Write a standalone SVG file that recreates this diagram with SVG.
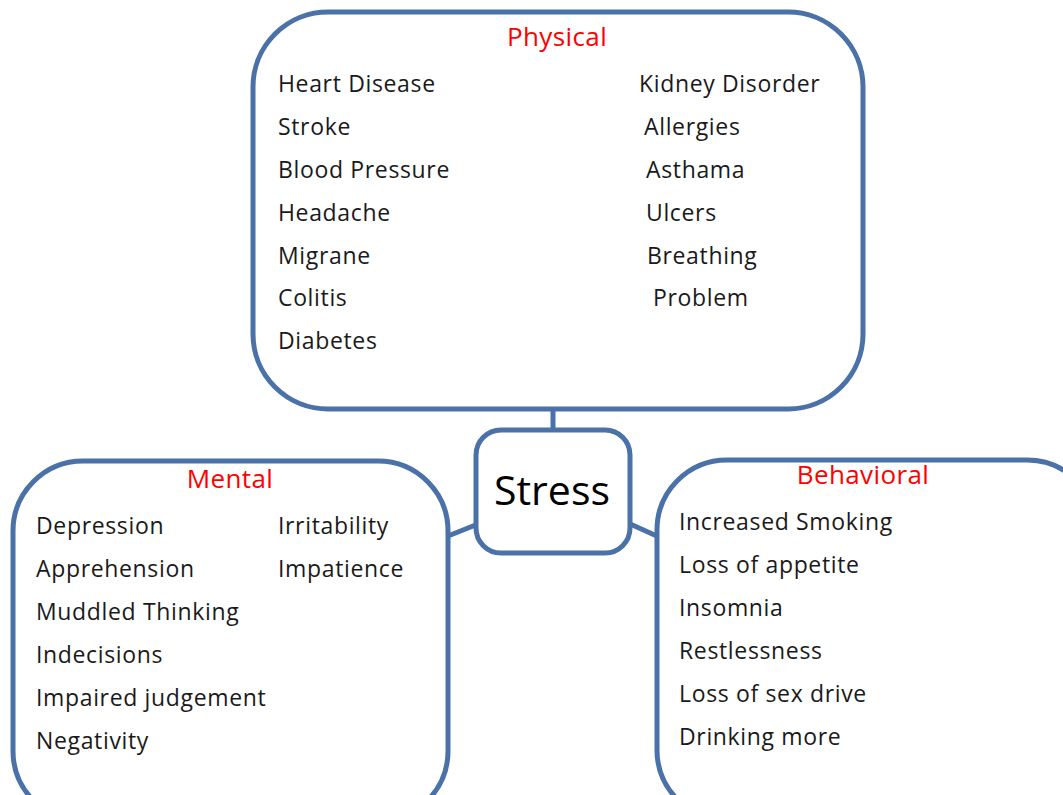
<svg xmlns="http://www.w3.org/2000/svg" width="1063" height="795" viewBox="0 0 1063 795">
<style>
.box{fill:#fff;stroke:#4A71A8;stroke-width:5}
.ln{stroke:#4A71A8;stroke-width:5;fill:none}
.t{font-family:"Open Sans","Liberation Sans",sans-serif;font-size:23px;letter-spacing:0.65px;fill:#1a1a1a}
.h{font-family:"Open Sans","Liberation Sans",sans-serif;font-size:26px;letter-spacing:0.4px;fill:#ff0000;text-anchor:middle}
.s{font-family:"Open Sans","Liberation Sans",sans-serif;font-size:41px;fill:#000;text-anchor:middle}
</style>
<rect width="1063" height="795" fill="#fff"/>
<g id="connectors">
<line class="ln" x1="553" y1="408" x2="553" y2="432"/>
<line class="ln" x1="448" y1="536" x2="478" y2="524"/>
<line class="ln" x1="628" y1="523" x2="659" y2="537"/>
</g>
<g id="physical">
<rect class="box" x="253" y="12" width="610" height="397" rx="75"/>
<text class="h" x="557" y="46">Physical</text>
<text class="t" x="278" y="92">Heart Disease</text>
<text class="t" x="278" y="135">Stroke</text>
<text class="t" x="278" y="178">Blood Pressure</text>
<text class="t" x="278" y="221">Headache</text>
<text class="t" x="278" y="264">Migrane</text>
<text class="t" x="278" y="306">Colitis</text>
<text class="t" x="278" y="349">Diabetes</text>
<text class="t" x="639" y="92">Kidney Disorder</text>
<text class="t" x="644" y="135">Allergies</text>
<text class="t" x="646" y="178">Asthama</text>
<text class="t" x="646" y="221">Ulcers</text>
<text class="t" x="647" y="264">Breathing</text>
<text class="t" x="653" y="306">Problem</text>
</g>
<g id="stress">
<rect class="box" x="476" y="430" width="154" height="123" rx="25"/>
<text class="s" x="552" y="505">Stress</text>
</g>
<g id="mental">
<rect class="box" x="13" y="461" width="435" height="360" rx="70"/>
<text class="h" x="230" y="488">Mental</text>
<text class="t" x="36" y="534">Depression</text>
<text class="t" x="36" y="577">Apprehension</text>
<text class="t" x="36" y="620">Muddled Thinking</text>
<text class="t" x="36" y="663">Indecisions</text>
<text class="t" x="36" y="706">Impaired judgement</text>
<text class="t" x="36" y="749">Negativity</text>
<text class="t" x="278" y="534">Irritability</text>
<text class="t" x="278" y="577">Impatience</text>
</g>
<g id="behavioral">
<rect class="box" x="657" y="460" width="440" height="360" rx="70"/>
<text class="h" x="863" y="484">Behavioral</text>
<text class="t" x="679" y="530">Increased Smoking</text>
<text class="t" x="679" y="573">Loss of appetite</text>
<text class="t" x="679" y="616">Insomnia</text>
<text class="t" x="679" y="659">Restlessness</text>
<text class="t" x="679" y="702">Loss of sex drive</text>
<text class="t" x="679" y="745">Drinking more</text>
</g>
</svg>
